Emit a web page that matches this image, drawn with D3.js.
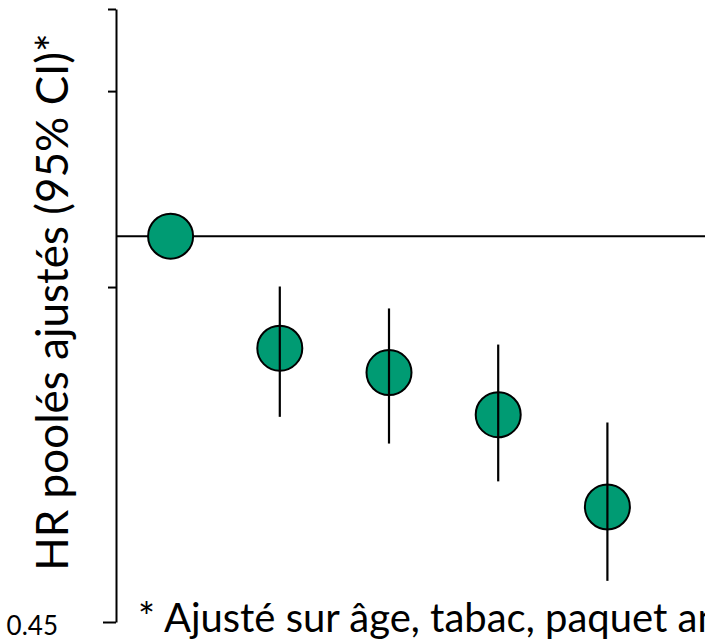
<!DOCTYPE html>
<html>
<head>
<meta charset="utf-8">
<script src="https://cdn.jsdelivr.net/npm/d3@7"></script>
<style>
  body { margin: 0; background: #fff; }
  .chart svg { display: block; font-family: Lato, "Open Sans", sans-serif; }
</style>
</head>
<body>
<div class="chart"></div>
<script>
const width = 705;
const height = 641;

// groups (x labels not shown in the picture)
const groups = ["1", "2", "3", "4", "5"];
const hr = [1.0, 0.793, 0.754, 0.691, 0.571];
const ciLow = [1.0, 0.688, 0.651, 0.602, 0.490];
const ciHigh = [1.0, 0.901, 0.861, 0.799, 0.680];

const tickValues = [0.45, 0.9, 1.35, 1.6];
const tickLabels = ["0.45", "", "", ""];

const margin = {top: 9, right: 43, bottom: 19, left: 116};

let svg = d3.select(".chart")
    .append("svg")
    .attr("width", width)
    .attr("height", height);

let x = d3.scalePoint()
    .domain(groups)
    .range([margin.left, width - margin.right])
    .padding(0.5);

let y = d3.scaleLog()
    .domain([0.45, 1.6])
    .range([height - margin.bottom, margin.top]);

let data = groups.map((g, i) => ({g: g, hr: hr[i], lo: ciLow[i], hi: ciHigh[i]}));

// y axis
let yAxis = svg.append("g")
    .attr("transform", `translate(${margin.left},0)`)
    .call(d3.axisLeft(y)
        .tickValues(tickValues)
        .tickFormat((d, i) => tickLabels[i])
        .tickSize(8)
        .tickSizeOuter(0)
        .tickPadding(50));

yAxis.select(".domain").attr("stroke", "#000").attr("stroke-width", 2);
yAxis.selectAll(".tick line").attr("stroke", "#000").attr("stroke-width", 2);
// bottom tick is a bit longer
yAxis.selectAll(".tick line").filter(d => d === 0.45).attr("x2", -13);
yAxis.selectAll(".tick text")
    .attr("fill", "#000")
    .style("font-size", "26px")
    .style("font-family", "Lato, sans-serif")
    .attr("dy", "0.48em");

// reference line at HR = 1
svg.append("line")
    .attr("x1", margin.left)
    .attr("x2", width)
    .attr("y1", y(1))
    .attr("y2", y(1))
    .attr("stroke", "#000")
    .attr("stroke-width", 2);

// confidence intervals
svg.selectAll(".ci")
    .data(data.filter(d => d.hi > d.lo))
    .enter()
    .append("line")
    .attr("class", "ci")
    .attr("x1", d => x(d.g))
    .attr("x2", d => x(d.g))
    .attr("y1", d => y(d.hi))
    .attr("y2", d => y(d.lo))
    .attr("stroke", "#000")
    .attr("stroke-width", 2.2);

// points
svg.selectAll("circle")
    .data(data)
    .enter()
    .append("circle")
    .attr("cx", d => x(d.g))
    .attr("cy", d => y(d.hr))
    .attr("r", 22.5)
    .attr("fill", "#009b73")
    .attr("stroke", "#000")
    .attr("stroke-width", 2);

// CI lines drawn over the circles
svg.selectAll(".ci").raise();

// y title
svg.append("text")
    .attr("transform", `translate(68,${302}) rotate(-90)`)
    .attr("text-anchor", "middle")
    .style("font-size", "44px")
    .attr("fill", "#000")
    .text("HR poolés ajustés (95% CI)*");

// footnote (runs off the right edge, as in the original slide)
svg.append("text")
    .attr("x", 138)
    .attr("y", 632)
    .style("font-size", "40px")
    .attr("fill", "#000")
    .text("* Ajusté sur âge, tabac, paquet années");
</script>
</body>
</html>
